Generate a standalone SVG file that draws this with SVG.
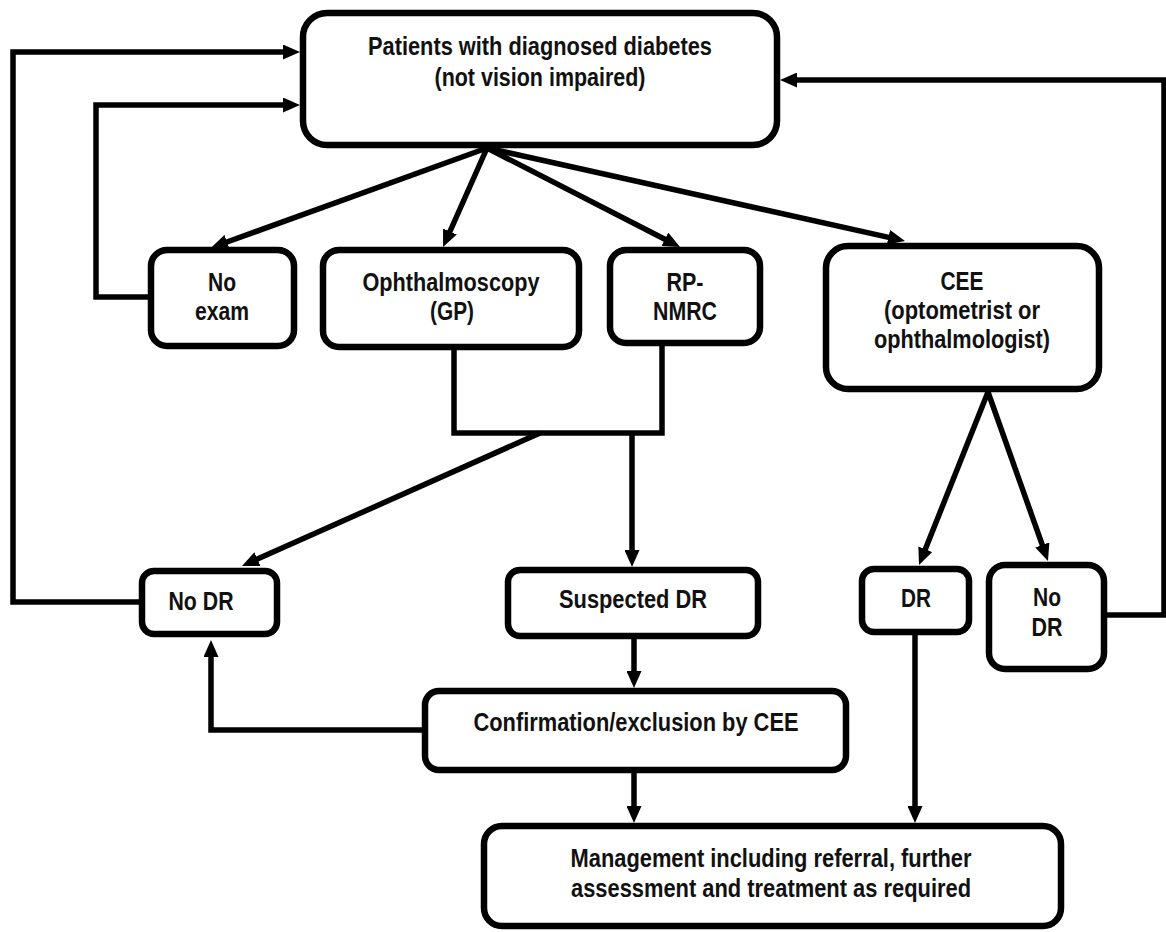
<svg xmlns="http://www.w3.org/2000/svg" width="1166" height="932" viewBox="0 0 1166 932">
<defs>
<marker id="ah" markerUnits="userSpaceOnUse" markerWidth="17" markerHeight="15" refX="6" refY="7.5" orient="auto">
<path d="M0,0 L17,7.5 L0,15 z" fill="#000"/>
</marker>
<style>
.box{fill:#fff;stroke:#000;stroke-width:6.5}
.t{font-family:"Liberation Sans Narrow","Liberation Sans",Arial,sans-serif;font-weight:bold;font-size:26.5px;fill:#111;text-anchor:middle}
.c{fill:none;stroke:#000;stroke-width:5.5;stroke-linejoin:miter}
.a{marker-end:url(#ah)}
</style>
</defs>
<rect width="1166" height="932" fill="#fff"/>
<g id="connectors">
<polyline class="c a" points="139,602 13,602 13,52 289,52"/>
<polyline class="c a" points="148,297 96,297 96,105 289,105"/>
<polyline class="c a" points="1107,615 1164,615 1164,80 791,80"/>
<line class="c a" x1="487" y1="148" x2="221.4" y2="244"/>
<line class="c a" x1="487" y1="148" x2="447.5" y2="237"/>
<line class="c a" x1="487" y1="148" x2="670.2" y2="242"/>
<line class="c a" x1="487" y1="148" x2="894.3" y2="238.6"/>
<polyline class="c" points="454,350 454,433 662,433 662,346"/>
<line class="c a" x1="540" y1="433" x2="252" y2="561.5"/>
<line class="c a" x1="632" y1="433" x2="632" y2="556"/>
<line class="c a" x1="988" y1="392" x2="923.1" y2="554.8"/>
<line class="c a" x1="988" y1="392" x2="1044.3" y2="550.6"/>
<line class="c a" x1="634" y1="639" x2="634" y2="677"/>
<polyline class="c a" points="422,730 211,730 211,651"/>
<line class="c a" x1="634" y1="773" x2="634" y2="812"/>
<line class="c a" x1="915" y1="635" x2="915" y2="812"/>
</g>
<g id="n-patients">
<rect class="box" x="303" y="13" width="474" height="132" rx="24"/>
<text class="t" x="540" y="55" textLength="344" lengthAdjust="spacingAndGlyphs">Patients with diagnosed diabetes</text>
<text class="t" x="540" y="86" textLength="211" lengthAdjust="spacingAndGlyphs">(not vision impaired)</text>
</g>
<g id="n-noexam">
<rect class="box" x="151" y="250" width="143" height="96" rx="16"/>
<text class="t" x="222" y="291" textLength="28" lengthAdjust="spacingAndGlyphs">No</text>
<text class="t" x="222" y="320" textLength="54" lengthAdjust="spacingAndGlyphs">exam</text>
</g>
<g id="n-ophth">
<rect class="box" x="323" y="250" width="256" height="97" rx="16"/>
<text class="t" x="451" y="291" textLength="177" lengthAdjust="spacingAndGlyphs">Ophthalmoscopy</text>
<text class="t" x="452" y="320" textLength="44" lengthAdjust="spacingAndGlyphs">(GP)</text>
</g>
<g id="n-rpnmrc">
<rect class="box" x="610" y="250" width="150" height="93" rx="16"/>
<text class="t" x="685" y="291" textLength="37" lengthAdjust="spacingAndGlyphs">RP-</text>
<text class="t" x="685" y="320" textLength="64" lengthAdjust="spacingAndGlyphs">NMRC</text>
</g>
<g id="n-cee">
<rect class="box" x="826" y="246" width="273" height="143" rx="22"/>
<text class="t" x="962" y="290" textLength="43" lengthAdjust="spacingAndGlyphs">CEE</text>
<text class="t" x="962" y="319" textLength="156" lengthAdjust="spacingAndGlyphs">(optometrist or</text>
<text class="t" x="962" y="348" textLength="176" lengthAdjust="spacingAndGlyphs">ophthalmologist)</text>
</g>
<g id="n-nodr-left">
<rect class="box" x="142" y="571" width="135" height="63" rx="12"/>
<text class="t" x="201" y="610" textLength="65" lengthAdjust="spacingAndGlyphs">No DR</text>
</g>
<g id="n-suspected">
<rect class="box" x="508" y="570" width="250" height="66" rx="12"/>
<text class="t" x="633" y="608" textLength="148" lengthAdjust="spacingAndGlyphs">Suspected DR</text>
</g>
<g id="n-dr">
<rect class="box" x="862" y="569" width="107" height="63" rx="12"/>
<text class="t" x="916" y="607" textLength="30" lengthAdjust="spacingAndGlyphs">DR</text>
</g>
<g id="n-nodr-right">
<rect class="box" x="989" y="565" width="115" height="104" rx="16"/>
<text class="t" x="1047" y="606" textLength="28" lengthAdjust="spacingAndGlyphs">No</text>
<text class="t" x="1047" y="636" textLength="31" lengthAdjust="spacingAndGlyphs">DR</text>
</g>
<g id="n-confirm">
<rect class="box" x="425" y="691" width="421" height="79" rx="14"/>
<text class="t" x="636" y="731" textLength="325" lengthAdjust="spacingAndGlyphs">Confirmation/exclusion by CEE</text>
</g>
<g id="n-management">
<rect class="box" x="484" y="826" width="577" height="100" rx="18"/>
<text class="t" x="771" y="867" textLength="401" lengthAdjust="spacingAndGlyphs">Management including referral, further</text>
<text class="t" x="771" y="897" textLength="400" lengthAdjust="spacingAndGlyphs">assessment and treatment as required</text>
</g>
</svg>
